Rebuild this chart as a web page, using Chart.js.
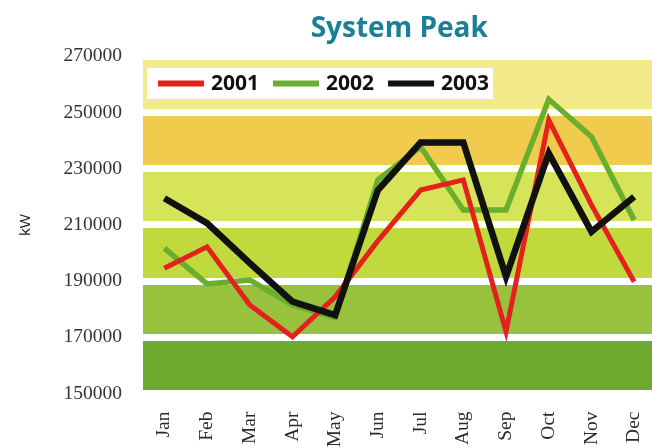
<!DOCTYPE html>
<html>
<head>
<meta charset="utf-8">
<script src="https://cdn.jsdelivr.net/npm/chart.js@4/dist/chart.umd.min.js"></script>
<style>
  html, body { margin: 0; padding: 0; background: #ffffff; overflow: hidden; }
  #wrap { position: relative; width: 660px; height: 470px; }
</style>
</head>
<body>
<div id="wrap"><canvas id="chart"></canvas></div>
<script>
// Monthly system peak demand, kW
const months = ['Jan', 'Feb', 'Mar', 'Apr', 'May', 'Jun', 'Jul', 'Aug', 'Sep', 'Oct', 'Nov', 'Dec'];
const peak2001 = [194600, 202200, 181500, 170200, 184400, 204300, 222400, 226000, 172000, 247300, 217100, 189800];
const peak2002 = [201700, 189000, 190400, 181500, 177000, 226000, 237800, 215300, 215300, 254700, 241400, 211700];
const peak2003 = [219500, 210600, 196400, 182700, 177900, 222400, 239300, 239300, 191600, 235500, 207600, 220000];
const yTicks = [150000, 170000, 190000, 210000, 230000, 250000, 270000];

// Fill colours of the horizontal bands, bottom to top
const bandColors = ['#6eaa2e', '#98c23e', '#c0d93c', '#d6e45a', '#f1cb4e', '#f3ea8a'];

const bandsPlugin = {
  id: 'bands',
  beforeDraw(chart) {
    const { ctx, chartArea, scales } = chart;
    const y = scales.y;
    ctx.save();
    for (let i = 0; i < yTicks.length - 1; i++) {
      const top = y.getPixelForValue(yTicks[i + 1]);
      const bottom = y.getPixelForValue(yTicks[i]);
      ctx.fillStyle = bandColors[i];
      ctx.fillRect(chartArea.left, top, chartArea.right - chartArea.left, bottom - top);
    }
    ctx.restore();
  }
};

// Boxed legend inside the top of the plot
const boxLegendPlugin = {
  id: 'boxLegend',
  beforeDatasetsDraw(chart) {
    const { ctx, chartArea } = chart;
    const left = chartArea.left + 4;
    const top = 68;
    const height = 31;
    const font = 'bold 21px "Open Sans", "DejaVu Sans", sans-serif';
    ctx.save();
    ctx.font = font;
    const items = chart.data.datasets.map(ds => ({ text: ds.label, color: ds.borderColor }));
    const sample = 46, gapText = 7, gapItem = 14;
    let total = 11;
    items.forEach((it, i) => {
      total += sample + gapText + ctx.measureText(it.text).width + (i < items.length - 1 ? gapItem : 0);
    });
    total += 4;
    ctx.fillStyle = '#ffffff';
    ctx.fillRect(left, top, total, height);
    let x = left + 11;
    const cy = top + height / 2;
    items.forEach(it => {
      ctx.strokeStyle = it.color;
      ctx.lineWidth = 6;
      ctx.lineCap = 'butt';
      ctx.beginPath();
      ctx.moveTo(x, cy);
      ctx.lineTo(x + sample, cy);
      ctx.stroke();
      x += sample + gapText;
      ctx.fillStyle = '#111111';
      ctx.textBaseline = 'middle';
      ctx.textAlign = 'left';
      ctx.fillText(it.text, x, cy + 1);
      x += ctx.measureText(it.text).width + gapItem;
    });
    ctx.restore();
  }
};

const lineStyle = {
  pointRadius: 0,
  pointHoverRadius: 0,
  tension: 0,
  fill: false,
  borderJoinStyle: 'miter',
  borderCapStyle: 'butt'
};

new Chart(document.getElementById('chart'), {
  type: 'line',
  data: {
    labels: months,
    datasets: [
      Object.assign({ label: '2001', data: peak2001, borderColor: '#e3211d', borderWidth: 5, order: 1 }, lineStyle),
      Object.assign({ label: '2002', data: peak2002, borderColor: '#6aae2e', borderWidth: 5.5, order: 2 }, lineStyle),
      Object.assign({ label: '2003', data: peak2003, borderColor: '#111111', borderWidth: 6.5, order: 0 }, lineStyle)
    ]
  },
  plugins: [bandsPlugin, boxLegendPlugin],
  options: {
    responsive: true,
    maintainAspectRatio: false,
    animation: false,
    events: [],
    layout: { padding: { left: 0, right: 4.5, top: 0, bottom: 0 } },
    plugins: {
      legend: { display: false },
      tooltip: { enabled: false },
      title: {
        display: true,
        text: 'System Peak',
        fullSize: false,
        color: '#1b7f96',
        font: { family: '"Open Sans", "DejaVu Sans", sans-serif', size: 28, weight: 'bold', lineHeight: 1.2 },
        padding: { top: 12, bottom: 10.7 }
      }
    },
    scales: {
      x: {
        offset: true,
        grid: { display: false, drawTicks: false },
        border: { display: false },
        ticks: {
          minRotation: 90,
          maxRotation: 90,
          autoSkip: false,
          padding: 18,
          color: '#2a2a2a',
          font: { family: '"Liberation Serif", "Times New Roman", serif', size: 19.5 }
        },
        afterFit(scale) {
          scale.height = 76.5;
          scale.paddingLeft = 0;
          scale.paddingRight = 0;
        }
      },
      y: {
        min: 150000,
        max: 270000,
        grid: { color: '#ffffff', lineWidth: 7, drawTicks: false },
        border: { display: false },
        afterBuildTicks(scale) { scale.ticks = yTicks.map(v => ({ value: v })); },
        ticks: {
          padding: 21,
          color: '#333333',
          font: { family: '"Liberation Serif", "Times New Roman", serif', size: 19.5 },
          callback: v => String(v)
        },
        title: {
          display: true,
          text: 'kW',
          color: '#222222',
          font: { family: '"Liberation Sans", Arial, sans-serif', size: 15, lineHeight: 1.2 },
          padding: { top: 17, bottom: 0 }
        },
        afterFit(scale) {
          scale.width = 143;
          scale.paddingTop = 0;
          scale.paddingBottom = 0;
        }
      }
    }
  }
});
</script>
</body>
</html>
